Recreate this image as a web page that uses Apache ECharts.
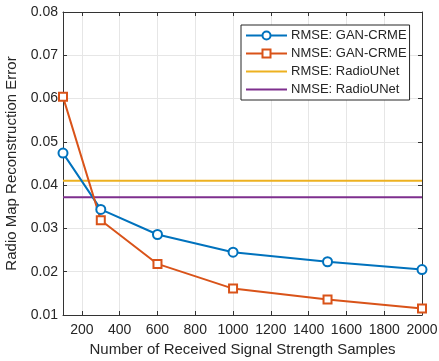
<!DOCTYPE html>
<html><head><meta charset="utf-8">
<script src="https://cdn.jsdelivr.net/npm/echarts@6/dist/echarts.min.js"></script>
<style>html,body{margin:0;padding:0;background:#fff}#c{width:439px;height:361px}</style>
</head><body><div id="c"></div>
<script>
const samples = [100, 300, 600, 1000, 1500, 2000];
const rmseGan = [0.0474, 0.0344, 0.0286, 0.0245, 0.0223, 0.0205];
const nmseGan = [0.0604, 0.0319, 0.0218, 0.0161, 0.0136, 0.0115];
const rmseRadioUNet = 0.0410;
const nmseRadioUNet = 0.0372;
const xTicks = [200, 400, 600, 800, 1000, 1200, 1400, 1600, 1800, 2000];
const yTicks = [0.01, 0.02, 0.03, 0.04, 0.05, 0.06, 0.07, 0.08];
const xRange = [100, 2000];

const axisColor = '#333333';
const font = 'Liberation Sans, Arial, Helvetica, sans-serif';
const chart = echarts.init(document.getElementById('c'));
const pair = (xs, ys) => xs.map((x, i) => [x, ys[i]]);
const flat = v => xRange.map(x => [x, v]);

chart.setOption({
  animation: false,
  textStyle: { fontFamily: font },
  grid: { left: 63, right: 17, top: 12, bottom: 46, containLabel: false, outerBoundsMode: 'none' },
  xAxis: [{
    type: 'value', min: xRange[0], max: xRange[1], position: 'bottom',
    name: 'Number of Received Signal Strength Samples', nameLocation: 'middle', nameGap: 26,
    nameTextStyle: { fontSize: 15, color: '#262626', fontFamily: font },
    axisLine: { show: true, onZero: false, lineStyle: { color: axisColor, width: 1 } },
    axisTick: { show: true, inside: true, length: 4, customValues: xTicks, lineStyle: { color: axisColor } },
    axisLabel: { customValues: xTicks, fontSize: 14, color: '#262626', margin: 8, fontFamily: font,
      formatter: v => String(v) },
    splitLine: { show: true, lineStyle: { color: '#e6e6e6', width: 1 } }
  }, {
    type: 'value', min: xRange[0], max: xRange[1], position: 'top',
    axisLine: { show: true, onZero: false, lineStyle: { color: axisColor, width: 1 } },
    axisTick: { show: true, inside: true, length: 4, customValues: xTicks, lineStyle: { color: axisColor } },
    axisLabel: { show: false }, splitLine: { show: false }
  }],
  yAxis: [{
    type: 'value', min: 0.01, max: 0.08, position: 'left',
    name: 'Radio Map Reconstruction Error', nameLocation: 'middle', nameGap: 33,
    nameTextStyle: { fontSize: 15, color: '#262626', fontFamily: font },
    axisLine: { show: true, onZero: false, lineStyle: { color: axisColor, width: 1 } },
    axisTick: { show: true, inside: true, length: 4, customValues: yTicks, lineStyle: { color: axisColor } },
    axisLabel: { customValues: yTicks, fontSize: 14, color: '#262626', margin: 5, fontFamily: font,
      formatter: v => v.toFixed(2) },
    splitLine: { show: true, lineStyle: { color: '#e6e6e6', width: 1 } }
  }, {
    type: 'value', min: 0.01, max: 0.08, position: 'right',
    axisLine: { show: true, onZero: false, lineStyle: { color: axisColor, width: 1 } },
    axisTick: { show: true, inside: true, length: 4, customValues: yTicks, lineStyle: { color: axisColor } },
    axisLabel: { show: false }, splitLine: { show: false }
  }],
  legend: {
    orient: 'vertical', left: 241, top: 25,
    itemWidth: 41, itemHeight: 10, itemGap: 5,
    padding: [4, 3, 4, 4],
    backgroundColor: '#ffffff', borderColor: '#262626', borderWidth: 1, borderRadius: 0,
    textStyle: { fontSize: 13, color: '#262626', fontFamily: font, padding: [0, 0, 0, -1] },
    data: ['RMSE: GAN-CRME', 'NMSE: GAN-CRME', 'RMSE: RadioUNet', 'NMSE: RadioUNet']
  },
  series: [
    { name: 'RMSE: GAN-CRME', type: 'line', data: pair(samples, rmseGan),
      symbol: 'circle', symbolSize: 9, showAllSymbol: true,
      lineStyle: { color: '#0072BD', width: 2 },
      itemStyle: { color: '#ffffff', borderColor: '#0072BD', borderWidth: 2 }, z: 4 },
    { name: 'NMSE: GAN-CRME', type: 'line', data: pair(samples, nmseGan),
      symbol: 'rect', symbolSize: 8, showAllSymbol: true,
      lineStyle: { color: '#D95319', width: 2 },
      itemStyle: { color: '#ffffff', borderColor: '#D95319', borderWidth: 2 }, z: 4 },
    { name: 'RMSE: RadioUNet', type: 'line', data: flat(rmseRadioUNet),
      symbol: 'circle', symbolSize: 0, showSymbol: false,
      lineStyle: { color: '#EDB120', width: 2 },
      itemStyle: { color: 'rgba(0,0,0,0)', borderWidth: 0 }, z: 3 },
    { name: 'NMSE: RadioUNet', type: 'line', data: flat(nmseRadioUNet),
      symbol: 'circle', symbolSize: 0, showSymbol: false,
      lineStyle: { color: '#7E2F8E', width: 2 },
      itemStyle: { color: 'rgba(0,0,0,0)', borderWidth: 0 }, z: 3 }
  ]
});
</script></body></html>
